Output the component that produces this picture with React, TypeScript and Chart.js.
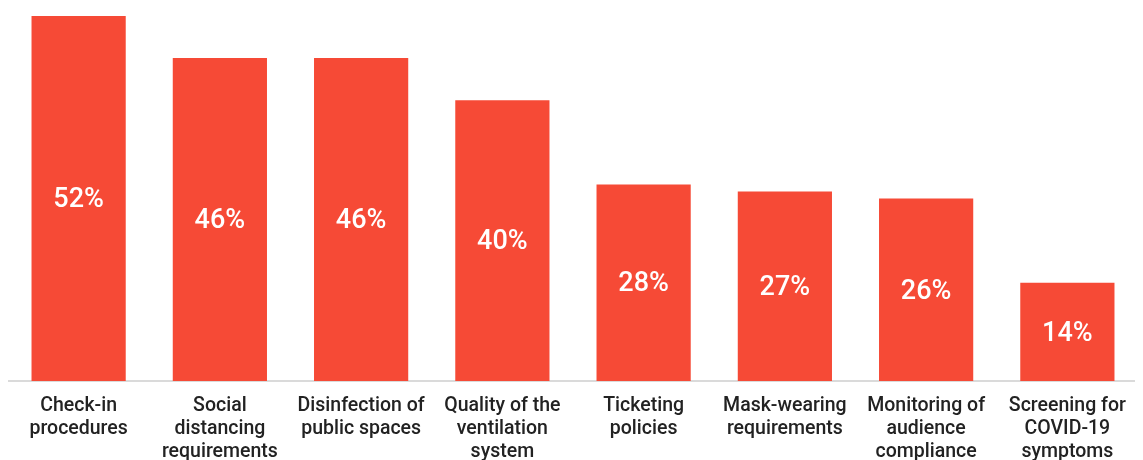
import React, { useEffect, useRef } from "react";
import { Chart, registerables } from "chart.js";

Chart.register(...registerables);

const categories: string[][] = [
  ["Check-in", "procedures"],
  ["Social", "distancing", "requirements"],
  ["Disinfection of", "public spaces"],
  ["Quality of the", "ventilation", "system"],
  ["Ticketing", "policies"],
  ["Mask-wearing", "requirements"],
  ["Monitoring of", "audience", "compliance"],
  ["Screening for", "COVID-19", "symptoms"],
];
const values: number[] = [52, 46, 46, 40, 28, 27, 26, 14];
const valueLabels: string[] = ["52%", "46%", "46%", "40%", "28%", "27%", "26%", "14%"];

const FONT = "Roboto, 'DejaVu Sans', sans-serif";

const insideLabels = {
  id: "insideLabels",
  afterDatasetsDraw(chart: any) {
    const ctx = chart.ctx;
    const meta = chart.getDatasetMeta(0);
    ctx.save();
    ctx.fillStyle = "#ffffff";
    ctx.font = `500 27px ${FONT}`;
    ctx.textAlign = "center";
    ctx.textBaseline = "middle";
    meta.data.forEach((bar: any, i: number) => {
      const { x, y, base } = bar.getProps(["x", "y", "base"], true);
      ctx.fillText(valueLabels[i], x, (y + base) / 2 + 2);
    });
    ctx.restore();
  },
};

export default function App() {
  const ref = useRef<HTMLCanvasElement | null>(null);
  useEffect(() => {
    if (!ref.current) return;
    const chart = new Chart(ref.current, {
      type: "bar",
      data: {
        labels: categories,
        datasets: [
          {
            data: values,
            backgroundColor: "#F64A36",
            borderWidth: 0,
            barPercentage: 0.667,
            categoryPercentage: 1,
          },
        ],
      },
      options: {
        animation: false,
        responsive: false,
        maintainAspectRatio: false,
        layout: { padding: { top: 8, left: 0, right: 0, bottom: 0 } },
        plugins: {
          legend: { display: false },
          tooltip: { enabled: false },
        },
        scales: {
          x: {
            grid: { display: false, drawTicks: false },
            border: { display: true, color: "#DADADA", width: 2 },
            ticks: {
              color: "#222222",
              font: { family: FONT, size: 19.5, weight: 500, lineHeight: "23px" },
              padding: 14,
              maxRotation: 0,
              autoSkip: false,
            },
            afterFit: (scale: any) => {
              scale.height = 97;
              scale.paddingLeft = 0;
              scale.paddingRight = 0;
            },
          },
          y: {
            display: false,
            min: 0,
            max: 52,
          },
        },
      },
      plugins: [insideLabels],
    });
    return () => chart.destroy();
  }, []);
  return (
    <canvas ref={ref} width={1130} height={470} style={{ width: 1130, height: 470, display: "block" }} />
  );
}
